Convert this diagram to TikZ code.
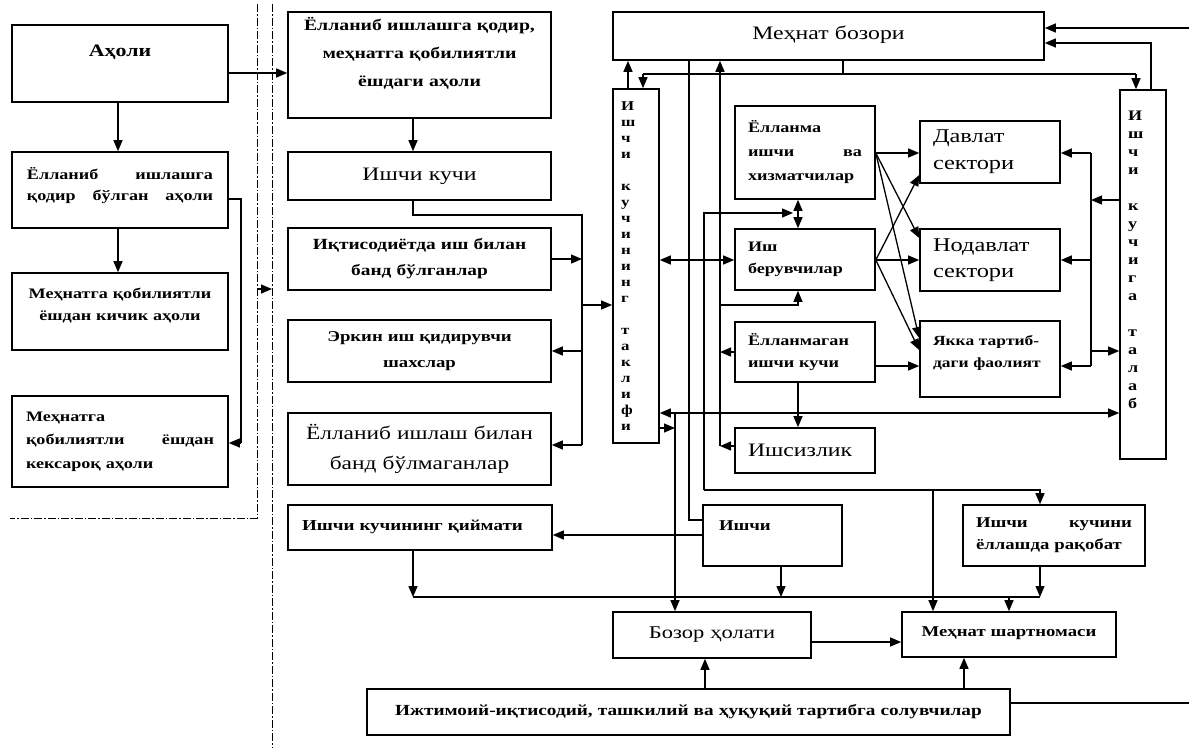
\documentclass[tikz,border=0pt]{standalone}
\usepackage{fontspec}
\setmainfont{Liberation Serif}[FakeStretch=1.25]
\usetikzlibrary{arrows.meta}
\newcommand\updepth[1]{\rule[-#1pt]{0pt}{#1pt}}
\newcommand\BX[7][]{%
  \pgfmathsetmacro\BXw{#5-#3}\pgfmathsetmacro\BXh{#6-#4}\pgfmathsetmacro\BXt{#5-#3-24}%
  \node[box,minimum width=\BXw pt,minimum height=\BXh pt,text width=\BXt pt,#1] (#2) at ({(#3+#5)/2},{(#4+#6)/2}) {#7};}
\begin{document}
\begin{tikzpicture}[x=1pt,y=-1pt,
  box/.style={draw,line width=1.6pt,inner sep=0pt,align=center},
  ln/.style={line width=1.3pt},
  ar/.style={ln,-{Triangle[length=11pt,width=9pt]}},
  dar/.style={ln,{Triangle[length=11pt,width=9pt]}-{Triangle[length=11pt,width=9pt]}},
  dsh/.style={line width=0.9pt,dash pattern=on 8pt off 2pt on 1.5pt off 2pt},
  vl/.style={text width=30pt,align=left}]
\useasboundingbox (0,0) rectangle (1189,748);

% dashed separators
\coordinate (d1t) at (257,4); \coordinate (d1b) at (257,518); \coordinate (d1l) at (10,518);
\coordinate (d2t) at (272,4); \coordinate (d2b) at (272,748);
\draw[dsh] (d1t) -- (d1b) -- (d1l);
\draw[dsh] (d2t) -- (d2b);

% left column
\BX[font=\fontsize{17.5}{21}\bfseries\selectfont]{ahol}{12}{25}{228}{102}{Аҳоли\updepth{26}}
\BX[font=\fontsize{14.5}{21}\bfseries\selectfont,text width=186pt]{qodir}{12}{152}{228}{228}{Ёлланиб\hfill ишлашга\\ қодир\hfill бўлган\hfill аҳоли\updepth{12}}
\BX[font=\fontsize{14.5}{22}\bfseries\selectfont]{kichik}{12}{273}{228}{350}{Меҳнатга қобилиятли\\ ёшдан кичик аҳоли\updepth{14}}
\BX[font=\fontsize{14.5}{23.5}\bfseries\selectfont,text width=188pt,align=left]{keksa}{12}{396}{228}{487}{Меҳнатга\\ қобилиятли\hfill ёшдан\\ кексароқ аҳоли}

% middle column
\BX[font=\fontsize{15.8}{28}\bfseries\selectfont]{m1}{288}{12}{551}{118}{Ёлланиб ишлашга қодир,\\ меҳнатга қобилиятли\\ ёшдаги аҳоли\updepth{26}}
\BX[font=\fontsize{19}{23}\selectfont]{ishk}{288}{152}{551}{200}{Ишчи кучи}
\BX[font=\fontsize{15.5}{26}\bfseries\selectfont]{band}{288}{228}{551}{290}{Иқтисодиётда иш билан\\ банд бўлганлар}
\BX[font=\fontsize{15}{26}\bfseries\selectfont]{erkin}{288}{320}{551}{382}{Эркин иш қидирувчи\\ шахслар}
\BX[font=\fontsize{18.7}{30}\selectfont]{bandm}{288}{413}{551}{485}{Ёлланиб ишлаш билан\\ банд бўлмаганлар}
\BX[font=\fontsize{15.2}{20}\bfseries\selectfont,text width=236pt,align=left]{qiymat}{288}{505}{552}{550}{Ишчи кучининг қиймати\updepth{4}}

% market
\BX[font=\fontsize{19}{22}\selectfont]{bozori}{613}{12}{1044}{60}{Меҳнат бозори\updepth{7}}
\BX[font=\fontsize{13.5}{16}\bfseries\selectfont,vl]{taklif}{613}{89}{659}{443}{И\\ш\\ч\\и\\[16pt]к\\у\\ч\\и\\н\\и\\н\\г\\[16pt]т\\а\\к\\л\\и\\ф\\и}
\BX[font=\fontsize{14.5}{18}\bfseries\selectfont,text width=30pt,align=left]{talab}{1120}{90}{1166}{459}{И\\ш\\ч\\и\\[18pt]к\\у\\ч\\и\\г\\а\\[18pt]т\\а\\л\\а\\б\updepth{30}}

\BX[font=\fontsize{14.5}{24}\bfseries\selectfont,text width=114pt,align=left]{yollanma}{735}{106}{875}{199}{Ёлланма\\ ишчи\hfill ва\\ хизматчилар}
\BX[font=\fontsize{14.5}{22}\bfseries\selectfont,text width=114pt,align=left]{ishber}{735}{229}{875}{290}{Иш\\ берувчилар}
\BX[font=\fontsize{14.5}{22}\bfseries\selectfont,text width=114pt,align=left]{yollanmagan}{735}{322}{875}{382}{Ёлланмаган\\ ишчи кучи}
\BX[font=\fontsize{19}{22}\selectfont,text width=114pt,align=left]{ishsiz}{735}{428}{875}{473}{Ишсизлик}

\BX[font=\fontsize{19.5}{27}\selectfont,text width=114pt,align=left]{davlat}{920}{121}{1060}{183}{Давлат\\ сектори}
\BX[font=\fontsize{19.5}{26}\selectfont,text width=114pt,align=left]{nodavlat}{920}{229}{1060}{291}{Нодавлат\\ сектори}
\BX[font=\fontsize{14}{22}\bfseries\selectfont,text width=114pt,align=left]{yakka}{920}{321}{1060}{397}{Якка тартиб-\\ даги фаолият\updepth{16}}

% bottom
\BX[font=\fontsize{15}{20}\bfseries\selectfont,text width=107pt,align=left]{ishchi}{703}{505}{842}{566}{Ишчи\updepth{20}}
\BX[font=\fontsize{15}{22}\bfseries\selectfont,text width=156pt,align=left]{raqobat}{963}{505}{1145}{566}{Ишчи\hfill кучини\\ ёллашда рақобат}
\BX[font=\fontsize{18}{22}\selectfont]{holat}{613}{612}{811}{658}{Бозор ҳолати}
\BX[font=\fontsize{15}{20}\bfseries\selectfont]{shartnoma}{902}{612}{1116}{657}{Меҳнат шартномаси\updepth{6}}
\BX[font=\fontsize{15.4}{20}\bfseries\selectfont,text width=620pt]{ijt}{367}{689}{1010}{735}{Ижтимоий-иқтисодий, ташкилий ва ҳуқуқий тартибга солувчилар}

% junction coordinates
\coordinate (k1) at (241,443);
\coordinate (ga) at (257,289); \coordinate (gb) at (272,289);
\coordinate (b1t) at (582,215); \coordinate (b1b) at (582,445);
\coordinate (h1) at (413,597); \coordinate (h2) at (1040,597); \coordinate (h3) at (1009,597);
\coordinate (t1) at (843,74); \coordinate (t2) at (643,74); \coordinate (t3) at (1136,74);
\coordinate (re1) at (1189,28);
\coordinate (v1b) at (720,446); \coordinate (v1m) at (720,305); \coordinate (v1n) at (720,352);
\coordinate (v3b) at (704,490); \coordinate (v3t) at (793,213); \coordinate (v3r) at (933,490);
\coordinate (v4t) at (675,413); \coordinate (v4m) at (675,428);
\coordinate (r1t) at (1091,153); \coordinate (r1b) at (1091,366);
\coordinate (re2) at (1189,703);

% left connectors
\draw[ar] (ahol.east |- 0,73) -- (m1.west |- 0,73);
\draw[ar] (ahol.south -| 118,0) -- (qodir.north -| 118,0);
\draw[ar] (qodir.south -| 118,0) -- (kichik.north -| 118,0);
\draw[ln] (qodir.east |- 0,199) -| (k1);
\draw[ar] (k1) -- (keksa.east |- k1);
\draw[ar] (ga) -- (gb);

% middle connectors
\draw[ar] (m1.south -| 413,0) -- (ishk.north -| 413,0);
\draw[ln] (ishk.south -| 413,0) |- (b1t) -- (b1b);
\draw[ar] (band.east |- 0,259) -- (582,259);
\draw[ar] (582,305) -- (taklif.west |- 0,305);
\draw[ar] (582,351) -- (erkin.east |- 0,351);
\draw[ar] (b1b) -- (bandm.east |- b1b);
\draw[ar] (ishchi.west |- 0,535) -- (qiymat.east |- 0,535);
\draw[ar] (qiymat.south -| h1) -- (h1);
\draw[ln] (h1) -- (h2);
\draw[ar] (ishchi.south -| 781,0) -- (781,597);
\draw[ar] (raqobat.south -| h2) -- (h2);
\draw[ar] (h3) -- (shartnoma.north -| h3);

% top connectors
\draw[ar] (taklif.north -| 628,0) -- (bozori.south -| 628,0);
\draw[ln] (bozori.south -| t1) -- (t1);
\draw[ln] (t2) -- (t3);
\draw[ar] (t2) -- (taklif.north -| t2);
\draw[ar] (t3) -- (talab.north -| t3);
\draw[ar] (talab.north -| 1151,0) |- (bozori.east |- 0,43);
\draw[ar] (re1) -- (bozori.east |- re1);

% inner verticals
\draw[ar] (v1b) -- (bozori.south -| v1b);
\draw[ar] (yollanmagan.west |- v1n) -- (v1n);
\draw[ar] (ishsiz.west |- v1b) -- (v1b);
\draw[ar] (v1m) -| (ishber.south -| 798,0);
\draw[ln] (bozori.south -| 689,0) |- (ishchi.west |- 0,520);
\draw[ar] (v3b) |- (v3t);
\draw[ar] (v3b) -| (raqobat.north -| h2);
\draw[ar] (v3r) -- (shartnoma.north -| v3r);
\draw[dar] (yollanma.south -| 798,0) -- (ishber.north -| 798,0);
\draw[dar] (taklif.east |- 0,260) -- (ishber.west |- 0,260);
\draw[ar] (yollanmagan.south -| 798,0) -- (ishsiz.north -| 798,0);
\draw[dar] (taklif.east |- v4t) -- (talab.west |- v4t);
\draw[ar] (v4t) -- (holat.north -| v4t);
\draw[ar] (taklif.east |- v4m) -- (v4m);

% to sectors
\draw[ar] (yollanma.east |- 0,153) -- (davlat.west |- 0,153);
\draw[ar] (yollanma.east |- 0,153) -- (nodavlat.west |- 0,238);
\draw[ar] (yollanma.east |- 0,153) -- (yakka.west |- 0,338);
\draw[ar] (ishber.east |- 0,260) -- (davlat.west |- 0,175);
\draw[ar] (ishber.east |- 0,260) -- (nodavlat.west |- 0,260);
\draw[ar] (ishber.east |- 0,260) -- (yakka.west |- 0,350);
\draw[ar] (yollanmagan.east |- 0,366) -- (yakka.west |- 0,366);

% demand side bus
\draw[ln] (r1t) -- (r1b);
\draw[ar] (r1t) -- (davlat.east |- r1t);
\draw[ar] (1091,260) -- (nodavlat.east |- 0,260);
\draw[ar] (r1b) -- (yakka.east |- r1b);
\draw[ar] (talab.west |- 0,200) -- (1091,200);
\draw[ar] (1091,351) -- (talab.west |- 0,351);

% bottom connectors
\draw[ar] (holat.east |- 0,642) -- (shartnoma.west |- 0,642);
\draw[ar] (ijt.north -| 705,0) -- (holat.south -| 705,0);
\draw[ar] (ijt.north -| 964,0) -- (shartnoma.south -| 964,0);
\draw[ln] (ijt.east |- re2) -- (re2);
\end{tikzpicture}
\end{document}
